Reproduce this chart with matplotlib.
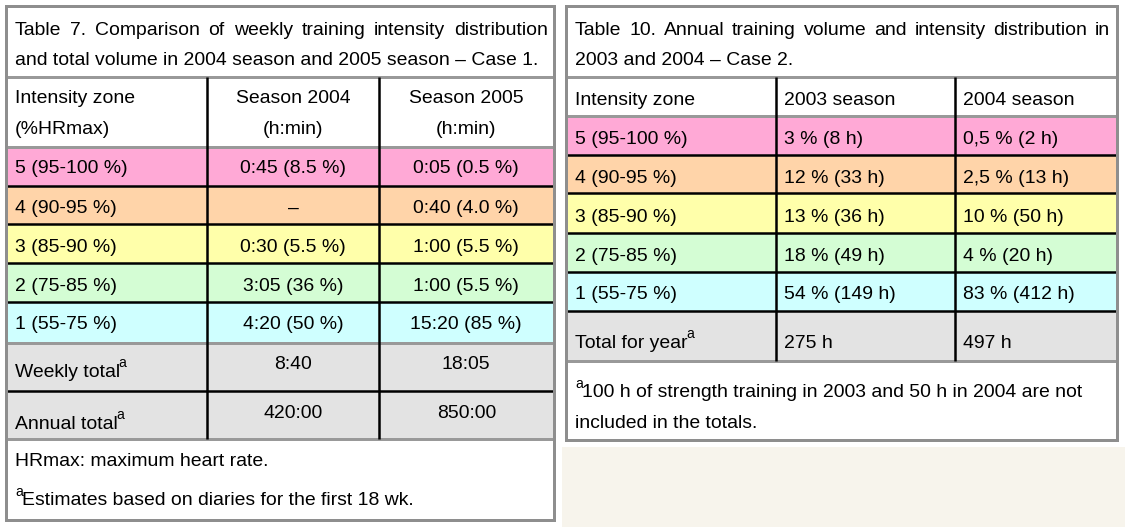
import matplotlib
matplotlib.use('Agg')
import matplotlib.pyplot as plt
from matplotlib.patches import Rectangle

W, H, DPI = 1125, 527, 100
FAMILY = ['Liberation Sans', 'DejaVu Sans']

# ---------------- data ----------------
t7_title = ["Table 7. Comparison of weekly training intensity distribution",
            "and total volume in 2004 season and 2005 season \u2013 Case 1."]
t7_header_zone = ["Intensity zone", "(%HRmax)"]
t7_header_2004 = ["Season 2004", "(h:min)"]
t7_header_2005 = ["Season 2005", "(h:min)"]
zones = ["5 (95-100 %)", "4 (90-95 %)", "3 (85-90 %)", "2 (75-85 %)", "1 (55-75 %)"]
t7_s2004 = ["0:45 (8.5 %)", "\u2013", "0:30 (5.5 %)", "3:05 (36 %)", "4:20 (50 %)"]
t7_s2005 = ["0:05 (0.5 %)", "0:40 (4.0 %)", "1:00 (5.5 %)", "1:00 (5.5 %)", "15:20 (85 %)"]
t7_total_labels = ["Weekly total", "Annual total"]
t7_total_2004 = ["8:40", "420:00"]
t7_total_2005 = ["18:05", "850:00"]
t7_note1 = "HRmax: maximum heart rate."
t7_note2 = "Estimates based on diaries for the first 18 wk."

t10_title = ["Table 10.  Annual training volume and intensity distribution in",
             "2003 and 2004 \u2013 Case 2."]
t10_header = ["Intensity zone", "2003 season", "2004 season"]
t10_s2003 = ["3 % (8 h)", "12 % (33 h)", "13 % (36 h)", "18 % (49 h)", "54 % (149 h)"]
t10_s2004 = ["0,5 % (2 h)", "2,5 % (13 h)", "10 % (50 h)", "4 % (20 h)", "83 % (412 h)"]
t10_total = ["Total for year", "275 h", "497 h"]
t10_note = ["100 h of strength training in 2003 and 50 h in 2004 are not",
            "included in the totals."]
sup_mark = "a"

zone_colors = ["#FFA9D6", "#FFD4A9", "#FFFFAA", "#D4FDD4", "#CFFFFF"]
total_color = "#E3E3E3"
border_gray = "#8E8E8E"
line_gray = "#999999"
beige = "#F7F4EC"

# ---------------- figure ----------------
fig = plt.figure(figsize=(W / DPI, H / DPI), dpi=DPI)
ax = fig.add_axes([0, 0, 1, 1])
ax.set_xlim(0, W)
ax.set_ylim(H, 0)
ax.axis('off')
renderer = fig.canvas.get_renderer()


def px2pt(p):
    return p * 72.0 / DPI


def text_width(s, fs):
    t = ax.text(0, 0, s, fontsize=fs, family=FAMILY)
    bb = t.get_window_extent(renderer=renderer)
    t.remove()
    return bb.width


# fit font size so that a reference line has its measured width in the picture
FS = 10 * 524.0 / text_width(t7_title[1], 10)
EM = FS * DPI / 72.0
SUP_FS = FS * 0.72


def txt(x, y, s, ha='left', fs=None, sup_before=False, sup_after=False):
    fs = FS if fs is None else fs
    x0 = x
    if sup_before:
        sw = text_width(sup_mark, SUP_FS)
        ax.text(x0, y - 0.45 * EM, sup_mark, fontsize=SUP_FS, family=FAMILY,
                va='baseline', ha='left')
        x0 = x0 + sw - 1
    t = ax.text(x0, y, s, fontsize=fs, family=FAMILY, va='baseline', ha=ha)
    if sup_after:
        w = text_width(s, fs)
        if ha == 'left':
            xe = x0 + w
        else:
            xe = x0 + w / 2
        ax.text(xe - 1.5, y - 0.5 * EM, sup_mark, fontsize=SUP_FS, family=FAMILY,
                va='baseline', ha='left')
    return t


def justified(x0, x1, y, s):
    words = s.split()
    widths = [text_width(w, FS) for w in words]
    gap = (x1 - x0 - sum(widths)) / (len(words) - 1)
    x = x0
    for w, ww in zip(words, widths):
        ax.text(x, y, w, fontsize=FS, family=FAMILY, va='baseline', ha='left')
        x += ww + gap


def hline(y, x0, x1, color, wpx):
    ax.plot([x0, x1], [y, y], color=color, lw=px2pt(wpx), solid_capstyle='projecting', zorder=3)


def vline(x, y0, y1, color, wpx):
    ax.plot([x, x], [y0, y1], color=color, lw=px2pt(wpx), solid_capstyle='butt', zorder=3)


def rect(x0, y0, x1, y1, color):
    ax.add_patch(Rectangle((x0, y0), x1 - x0, y1 - y0, facecolor=color, edgecolor='none', zorder=1))


# beige background patch lower right
rect(562, 447, W, H, beige)

# ================= Table 7 =================
L0, L1 = 5.5, 553.5
Lc = [L0, 207, 379, L1]
L_rows = [147, 186, 224, 263, 302, 343]
L_tot = [343, 391, 439]
rect(L0, 5.5, L1, 520, "white")
for i, c in enumerate(zone_colors):
    rect(L0, L_rows[i], L1, L_rows[i + 1], c)
rect(L0, L_tot[0], L1, L_tot[2], total_color)

# lines
hline(77, L0, L1, line_gray, 3)
hline(147, L0, L1, line_gray, 3)
for y in L_rows[1:-1]:
    hline(y, L0, L1, "black", 2.5)
hline(343, L0, L1, line_gray, 3)
hline(391, L0, L1, "black", 2.5)
hline(439, L0, L1, line_gray, 3)
for x in Lc[1:3]:
    vline(x, 77, 439, "black", 2.5)
ax.add_patch(Rectangle((L0, 5.5), L1 - L0, 520 - 5.5, facecolor='none',
                       edgecolor=border_gray, lw=px2pt(3), zorder=4))

# text
justified(15, 548, 35, t7_title[0])
txt(15, 65, t7_title[1])
lc2 = (Lc[1] + Lc[2]) / 2
lc3 = (Lc[2] + Lc[3]) / 2
for j, yb in enumerate([103, 134]):
    txt(15, yb, t7_header_zone[j])
    txt(lc2, yb, t7_header_2004[j], ha='center')
    txt(lc3, yb, t7_header_2005[j], ha='center')
L_base = [173, 213, 252, 291, 329]
for i in range(5):
    txt(15, L_base[i], zones[i])
    txt(lc2, L_base[i], t7_s2004[i], ha='center')
    txt(lc3, L_base[i], t7_s2005[i], ha='center')
for i, (yl, yv) in enumerate([(377, 369), (429, 418)]):
    txt(15, yl, t7_total_labels[i], sup_after=True)
    txt(lc2, yv, t7_total_2004[i], ha='center')
    txt(lc3, yv, t7_total_2005[i], ha='center')
txt(15, 466, t7_note1)
txt(15, 505, t7_note2, sup_before=True)

# ================= Table 10 =================
R0, R1 = 566, 1116.5
Rc = [R0, 776, 955, R1]
R_rows = [116, 155, 193, 233, 272, 311]
R_bot = 439.5
rect(R0, 5.5, R1, R_bot, "white")
for i, c in enumerate(zone_colors):
    rect(R0, R_rows[i], R1, R_rows[i + 1], c)
rect(R0, 311, R1, 361, total_color)

hline(77, R0, R1, line_gray, 3)
hline(116, R0, R1, line_gray, 3)
for y in R_rows[1:]:
    hline(y, R0, R1, "black", 2.5)
hline(361, R0, R1, line_gray, 3)
for x in Rc[1:3]:
    vline(x, 77, 361, "black", 2.5)
ax.add_patch(Rectangle((R0, 5.5), R1 - R0, R_bot - 5.5, facecolor='none',
                       edgecolor=border_gray, lw=px2pt(3), zorder=4))

justified(575, 1110, 35, t10_title[0])
txt(575, 65, t10_title[1])
rx = [575, 784, 963]
for k in range(3):
    txt(rx[k], 105, t10_header[k])
R_base = [144, 183, 222, 261, 299]
for i in range(5):
    txt(rx[0], R_base[i], zones[i])
    txt(rx[1], R_base[i], t10_s2003[i])
    txt(rx[2], R_base[i], t10_s2004[i])
txt(rx[0], 348, t10_total[0], sup_after=True)
txt(rx[1], 348, t10_total[1])
txt(rx[2], 348, t10_total[2])
txt(575, 397, t10_note[0], sup_before=True)
txt(575, 428, t10_note[1])

fig.savefig("out.png", dpi=DPI, facecolor="white")
